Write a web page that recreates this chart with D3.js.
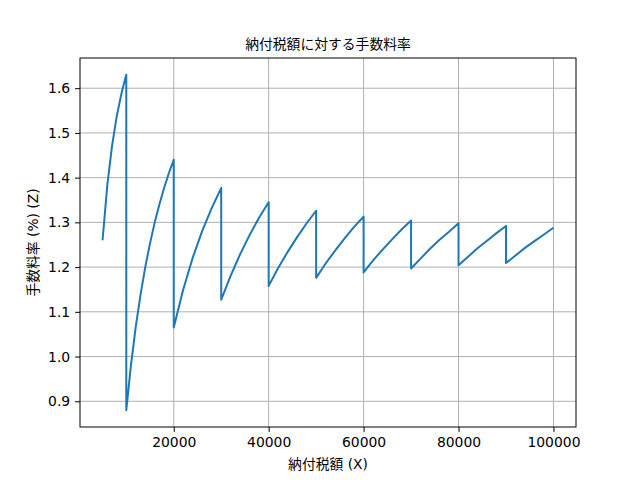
<!DOCTYPE html>
<html>
<head>
<meta charset="utf-8">
<script src="https://cdn.jsdelivr.net/npm/d3@7"></script>
<style>
  body { margin: 0; background: #fff; }
  .tick text { font-family: "DejaVu Sans", sans-serif; font-size: 13.9px; fill: #000; }
  .cjk { font-family: "DejaVu Sans", "Noto Sans CJK JP", sans-serif; font-size: 13.8px; fill: #000; }
</style>
</head>
<body>
<svg width="640" height="480"></svg>
<script>
// 納付税額 (X) と手数料率 (%), one list per saw tooth segment joined
var taxAmount = [
  5000, 6000, 7000, 8000, 9000, 10000,
  10000, 11000, 12000, 13000, 14000, 15000, 16000, 17000, 18000, 19000, 20000,
  20000, 22000, 24000, 26000, 28000, 30000,
  30000, 32000, 34000, 36000, 38000, 40000,
  40000, 42000, 44000, 46000, 48000, 50000,
  50000, 52000, 54000, 56000, 58000, 60000,
  60000, 62000, 64000, 66000, 68000, 70000,
  70000, 72000, 74000, 76000, 78000, 80000,
  80000, 82000, 84000, 86000, 88000, 90000,
  90000, 92000, 94000, 96000, 98000, 100000
];
var feeRate = [
  1.260, 1.383, 1.471, 1.538, 1.589, 1.630,
  0.880, 0.982, 1.067, 1.138, 1.200, 1.253, 1.300, 1.341, 1.378, 1.411, 1.440,
  1.065, 1.150, 1.221, 1.281, 1.332, 1.377,
  1.127, 1.181, 1.229, 1.272, 1.311, 1.345,
  1.158, 1.198, 1.234, 1.267, 1.298, 1.326,
  1.176, 1.208, 1.237, 1.264, 1.290, 1.313,
  1.188, 1.215, 1.239, 1.262, 1.284, 1.304,
  1.197, 1.219, 1.241, 1.261, 1.279, 1.298,
  1.204, 1.223, 1.242, 1.259, 1.276, 1.292,
  1.209, 1.226, 1.243, 1.258, 1.273, 1.288
];
var xTicks = [20000, 40000, 60000, 80000, 100000];
var yTicks = [0.9, 1.0, 1.1, 1.2, 1.3, 1.4, 1.5, 1.6];

var margin = {top: 58, right: 64, bottom: 53, left: 80},
    width = 640 - margin.left - margin.right,
    height = 480 - margin.top - margin.bottom;

var svg = d3.select("svg");
var g = svg.append("g")
   .attr("transform", "translate(" + margin.left + "," + margin.top + ")");

var x = d3.scaleLinear().domain([250, 104750]).range([0, width]);
var y = d3.scaleLinear().domain([0.8425, 1.6675]).range([height, 0]);

// grid
g.append("g")
   .selectAll("line")
   .data(xTicks)
   .enter().append("line")
   .attr("x1", function(d) { return x(d); })
   .attr("x2", function(d) { return x(d); })
   .attr("y1", 0).attr("y2", height)
   .style("stroke", "#b0b0b0").style("stroke-width", 1);
g.append("g")
   .selectAll("line")
   .data(yTicks)
   .enter().append("line")
   .attr("y1", function(d) { return y(d); })
   .attr("y2", function(d) { return y(d); })
   .attr("x1", 0).attr("x2", width)
   .style("stroke", "#b0b0b0").style("stroke-width", 1);

// line
var pts = taxAmount.map(function(d, i) { return [d, feeRate[i]]; });
g.append("path")
   .datum(pts)
   .attr("d", d3.line().x(function(d) { return x(d[0]); }).y(function(d) { return y(d[1]); }))
   .style("fill", "none")
   .style("stroke", "#1f77b4")
   .style("stroke-width", 2)
   .style("stroke-linejoin", "round");

// axes
var xAxis = g.append("g")
   .attr("transform", "translate(0," + height + ")")
   .call(d3.axisBottom(x).tickValues(xTicks).tickFormat(d3.format("d")).tickSize(4.9).tickPadding(4.9));
var yAxis = g.append("g")
   .call(d3.axisLeft(y).tickValues(yTicks).tickFormat(d3.format(".1f")).tickSize(4.9).tickPadding(4.9));
[xAxis, yAxis].forEach(function(a) {
   a.select(".domain").remove();
   a.selectAll(".tick line").style("stroke", "#000").style("stroke-width", 1);
});

// frame
g.append("rect")
   .attr("width", width).attr("height", height)
   .style("fill", "none").style("stroke", "#000").style("stroke-width", 1);

// texts
svg.append("text").attr("class", "cjk")
   .attr("x", margin.left + width / 2).attr("y", 49)
   .attr("text-anchor", "middle")
   .text("納付税額に対する手数料率");
svg.append("text").attr("class", "cjk")
   .attr("x", margin.left + width / 2).attr("y", 469)
   .attr("text-anchor", "middle")
   .text("納付税額 (X)");
svg.append("text").attr("class", "cjk")
   .attr("transform", "translate(38," + (margin.top + height / 2) + ") rotate(-90)")
   .attr("text-anchor", "middle")
   .text("手数料率 (%) (Z)");
</script>
</body>
</html>
